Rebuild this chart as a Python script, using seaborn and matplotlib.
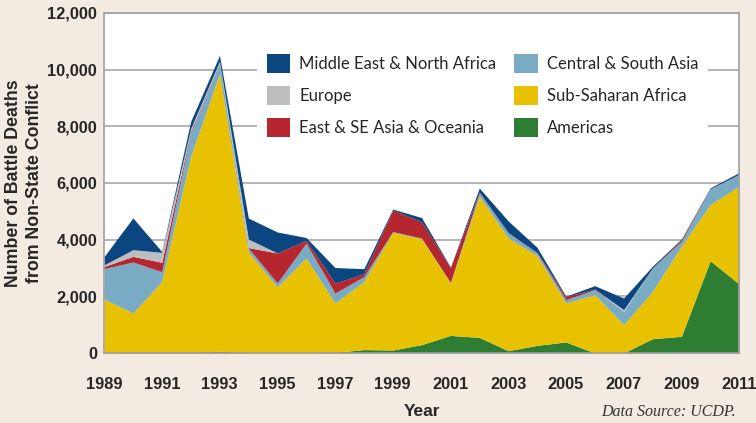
import numpy as np
import matplotlib
matplotlib.use("Agg")
import matplotlib.pyplot as plt
import seaborn as sns
from matplotlib.patches import Patch

years = list(range(1989, 2012))

americas = [0, 30, 20, 20, 60, 10, 10, 10, 20, 120, 105, 294, 621, 550, 82, 270, 388, 0, 0, 505, 588, 3258, 2435]
sub_saharan = [1900, 1380, 2500, 6920, 9800, 3550, 2320, 3340, 1745, 2400, 4150, 3740, 1850, 4980, 3980, 3165, 1380, 2060, 1000, 1670, 3180, 1980, 3450]
central_south_asia = [1080, 1800, 350, 820, 380, 140, 140, 530, 350, 175, 30, 20, 20, 120, 180, 94, 117, 176, 470, 820, 176, 550, 412]
east_se_asia = [70, 200, 330, 60, 10, 20, 1060, 94, 350, 100, 760, 575, 530, 30, 10, 20, 100, 20, 0, 10, 60, 10, 10]
europe = [60, 236, 350, 100, 50, 300, 0, 0, 0, 0, 0, 0, 0, 0, 0, 0, 0, 0, 60, 0, 0, 0, 0]
mena = [290, 1120, 30, 250, 200, 740, 740, 100, 550, 180, 35, 150, 10, 140, 410, 180, 20, 120, 410, 60, 20, 30, 60]

labels = ["Americas", "Sub-Saharan Africa", "Central & South Asia",
          "East & SE Asia & Oceania", "Europe", "Middle East & North Africa"]
colors = ["#2e7d32", "#e8c200", "#7aabc4", "#b5262f", "#bdbec0", "#0b4680"]

bg = "#f3ebe2"
sns.set_style("white")
plt.rcParams["font.family"] = ["Liberation Sans", "DejaVu Sans"]

fig = plt.figure(figsize=(7.56, 4.23), dpi=100, facecolor=bg)
ax = fig.add_axes([0.1376, 0.1655, 0.84, 0.804])
ax.set_facecolor("white")

ax.stackplot(years, americas, sub_saharan, central_south_asia, east_se_asia, europe, mena,
             colors=colors, linewidth=0, zorder=2)

ax.set_xlim(1989, 2011)
ax.set_ylim(0, 12000)
ax.set_xticks(range(1989, 2012, 2))
ax.set_yticks(range(0, 12001, 2000))
ax.set_yticklabels([f"{v:,}" for v in range(0, 12001, 2000)])
ax.grid(axis="y", color="#a8a8a8", linewidth=1.2, zorder=1)
ax.set_axisbelow(True)

for side in ["left", "bottom", "top", "right"]:
    ax.spines[side].set_color("#a0a0a0")
    ax.spines[side].set_linewidth(1.2)
    ax.spines[side].set_zorder(3)

ax.tick_params(axis="x", direction="out", length=8, width=1, color="#a0a0a0", pad=9,
               labelsize=11.8)
ax.tick_params(axis="y", length=0, pad=5, labelsize=11.8)
for t in ax.get_xticklabels() + ax.get_yticklabels():
    t.set_fontweight("bold")

ax.set_xlabel("Year", fontsize=12.5, fontweight="bold", labelpad=9)
ax.set_ylabel("Number of Battle Deaths\nfrom Non-State Conflict", fontsize=12.8,
              fontweight="bold", labelpad=3, linespacing=1.3)

order = [5, 4, 3, 2, 1, 0]
handles = [Patch(facecolor=colors[i], edgecolor="none") for i in order]
leg = ax.legend(handles, [labels[i] for i in order], ncol=2, loc="upper left",
                bbox_to_anchor=(0.227, 0.933), frameon=True, fancybox=False,
                facecolor="white", edgecolor="none", framealpha=1,
                prop={"family": ["Lato", "DejaVu Sans"], "size": 12},
                handlelength=1.4, handleheight=1.35, handletextpad=0.55,
                columnspacing=1.1, labelspacing=0.8, borderpad=0.6)
leg.set_zorder(4)

fig.text(0.973, 0.008, "Data Source: UCDP.", ha="right", va="bottom",
         fontsize=11.5, style="italic", family=["Liberation Serif", "DejaVu Serif"],
         color="#333333")

fig.savefig("out.png", dpi=100, facecolor=bg)
